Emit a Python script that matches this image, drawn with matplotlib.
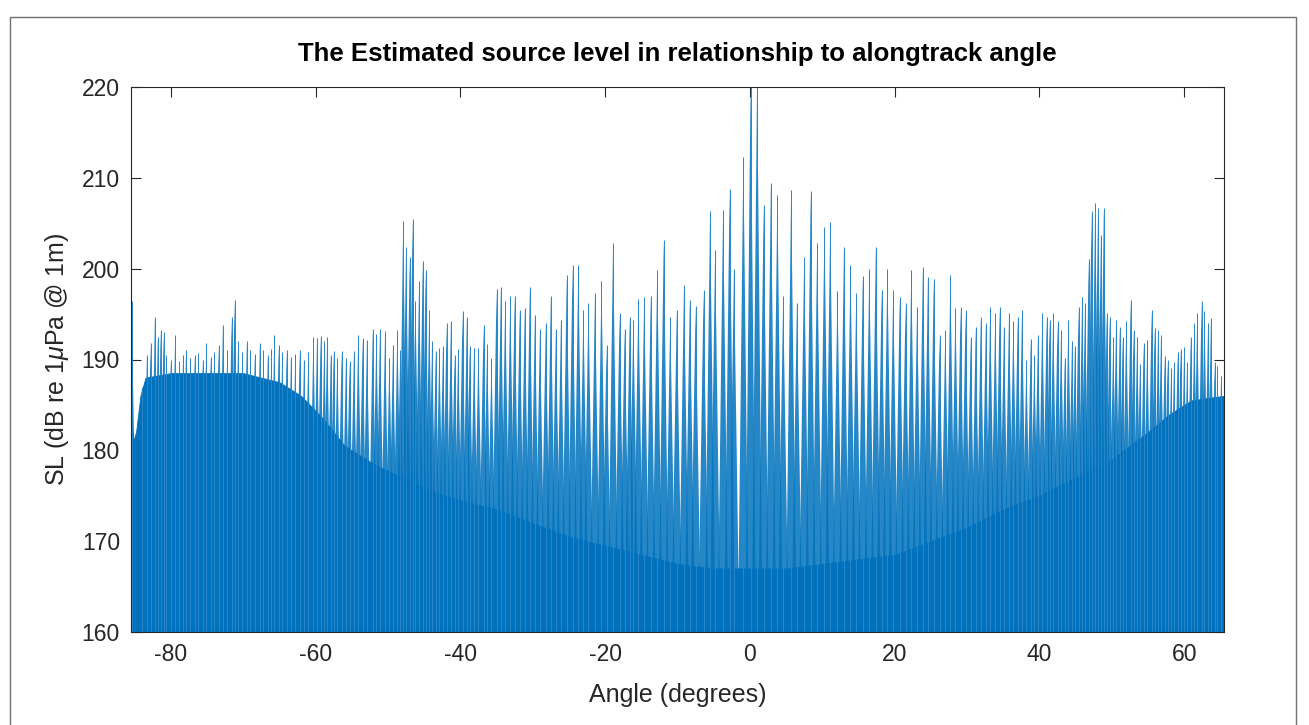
import numpy as np
import matplotlib
matplotlib.use("Agg")
import matplotlib.pyplot as plt
from matplotlib.collections import PolyCollection
from matplotlib.patches import Rectangle

# ---------------- data ----------------
# top of the solid (dense) part of the trace, angle in degrees -> SL in dB
ENV_ANGLE = [-85.5, -85.2, -84.8, -84.2, -83.5, -80, -75, -70, -65, -62, -59,
             -56, -52, -48, -44, -40, -35, -30, -25, -20, -15, -10, -5, 0,
             5, 10, 15, 20, 25, 30, 35, 40, 45, 50, 55, 58, 61, 65.5]
ENV_FLOOR = [184, 181, 182, 186, 188, 188.5, 188.5, 188.5, 187.5, 186, 183.5,
             180.5, 178.5, 177, 175.5, 174.5, 173.5, 172, 170.5, 169.5, 168.5,
             167.5, 167, 167, 167, 167.5, 168, 168.5, 170, 171.5, 173.5, 175,
             177, 179, 182, 184, 185.5, 186]

# individual spikes (ping peaks): angle in degrees and peak SL in dB
SPIKE_ANGLE = [
    -85.4, -84.0, -83.3, -82.8, -82.2, -81.8, -81.4, -81.0, -80.6, -80.0,
    -79.4, -78.8, -78.3, -77.9, -77.3, -76.7, -76.2, -75.6, -75.1, -74.5,
    -74.0, -73.4, -72.8, -72.2, -71.6, -71.2, -70.7, -70.1, -69.5, -69.0,
    -68.4, -67.7, -67.2, -66.6, -66.1, -65.7, -65.1, -64.6, -64.0, -63.4,
    -62.8, -62.2, -61.6, -61.0, -60.3, -59.8, -59.3, -58.8, -58.4, -57.9,
    -57.5, -57.0, -56.4, -55.8, -55.3, -54.7, -54.1, -53.5, -52.9, -52.1,
    -51.6, -51.1, -50.4, -49.8, -49.3, -48.7, -48.3, -47.9, -47.5, -47.0,
    -46.6, -46.2, -45.7, -45.2, -44.8, -44.3, -43.9, -43.4, -42.9, -42.4,
    -41.9, -41.3, -40.8, -40.3, -39.7, -39.1, -38.7, -38.1, -37.5, -36.8,
    -36.3, -35.7, -35.0, -34.4, -33.8, -33.1, -32.5, -31.8, -31.1, -30.4,
    -29.7, -29.0, -28.2, -27.5, -26.8, -26.1, -25.3, -24.5, -23.7, -23.0,
    -22.3, -21.4, -20.5, -19.8, -18.9, -18.0, -17.3, -16.6, -16.1, -15.4,
    -14.6, -13.7, -12.8, -11.9, -11.0, -10.1, -9.1, -8.3, -7.5, -6.4,
    -5.5, -4.8, -3.7, -2.8, -2.2, -0.9, 0.1, 1.0, 1.9, 2.9,
    3.8, 4.6, 5.7, 6.5, 7.5, 8.4, 9.3, 10.3, 11.1, 12.1,
    13.0, 13.9, 14.7, 15.6, 16.5, 17.4, 18.2, 19.0, 19.8, 20.7,
    21.5, 22.3, 23.1, 23.9, 24.6, 25.4, 26.2, 27.0, 27.7, 28.4,
    29.1, 29.8, 30.5, 31.2, 31.9, 32.6, 33.2, 33.9, 34.5, 35.1,
    35.8, 36.4, 37.0, 37.6, 38.2, 38.8, 39.3, 39.8, 40.4, 41.0,
    41.4, 41.9, 42.5, 43.0, 43.5, 44.0, 44.5, 44.9, 45.4, 45.9,
    46.3, 46.8, 47.2, 47.7, 48.1, 48.5, 48.9, 49.3, 49.7, 50.2,
    50.6, 51.1, 51.5, 52.0, 52.6, 53.0, 53.5, 53.9, 54.4, 54.9,
    55.5, 55.9, 56.4, 56.8, 57.3, 57.7, 58.2, 58.6, 59.1, 59.5,
    60.0, 60.4, 60.9, 61.4, 61.8, 62.4, 62.8, 63.3, 63.7, 64.2,
    64.6, 65.1]
SPIKE_DB = [
    196.4, 187.0, 190.5, 191.8, 194.7, 192.5, 193.3, 193.0, 190.5, 190.0,
    192.7, 189.8, 190.5, 191.1, 190.2, 190.5, 190.7, 190.0, 191.8, 190.3,
    190.8, 191.6, 193.8, 191.0, 194.7, 196.6, 192.0, 190.8, 192.0, 191.0,
    190.6, 191.8, 191.0, 190.5, 191.2, 192.7, 191.6, 190.8, 191.1, 190.3,
    190.6, 191.0, 190.0, 190.8, 192.5, 192.4, 192.6, 192.0, 192.5, 190.5,
    190.9, 190.2, 190.9, 190.2, 189.8, 190.9, 192.7, 192.4, 192.2, 193.4,
    192.8, 193.4, 193.1, 190.2, 191.6, 193.3, 191.0, 205.2, 202.4, 201.3,
    205.5, 196.4, 198.6, 200.8, 199.9, 195.4, 192.0, 190.9, 191.3, 191.5,
    194.0, 194.2, 190.5, 191.2, 195.3, 194.7, 191.5, 191.3, 191.3, 193.8,
    191.7, 190.2, 197.8, 198.0, 196.4, 197.0, 197.0, 195.5, 195.7, 198.0,
    194.9, 193.4, 194.0, 197.0, 193.4, 194.3, 199.3, 200.4, 200.4, 195.4,
    196.2, 197.3, 198.6, 191.6, 202.8, 195.1, 193.4, 194.7, 194.3, 196.7,
    196.9, 197.0, 199.9, 203.2, 194.7, 195.4, 198.2, 196.6, 195.9, 197.6,
    206.3, 202.1, 206.5, 208.8, 200.0, 212.3, 221.0, 221.0, 207.0, 209.4,
    208.1, 197.0, 208.7, 196.2, 201.3, 208.5, 202.8, 204.6, 205.1, 197.5,
    202.4, 200.4, 197.3, 199.2, 200.0, 202.4, 197.7, 200.0, 197.7, 196.9,
    196.2, 199.9, 195.8, 200.2, 199.1, 198.9, 192.7, 193.3, 199.3, 195.7,
    195.8, 195.4, 192.5, 193.6, 194.7, 194.0, 195.8, 195.1, 195.8, 193.6,
    195.1, 194.2, 194.7, 195.5, 189.9, 192.3, 190.5, 192.7, 195.1, 194.7,
    194.4, 195.1, 194.2, 193.3, 190.2, 194.4, 192.0, 191.5, 195.8, 196.9,
    196.2, 201.1, 206.3, 207.2, 206.7, 203.7, 206.7, 195.1, 194.7, 192.5,
    194.4, 193.6, 192.5, 194.2, 196.6, 193.3, 192.5, 189.5, 191.8, 192.2,
    195.5, 193.5, 193.3, 192.7, 190.4, 189.9, 189.1, 189.7, 190.8, 191.2,
    191.4, 189.7, 192.5, 194.0, 195.1, 196.4, 195.3, 194.0, 194.6, 189.7,
    189.3, 188.2]

X_TICKS = [-80, -60, -40, -20, 0, 20, 40, 60]
Y_TICKS = [160, 170, 180, 190, 200, 210, 220]

TITLE = "The Estimated source level in relationship to alongtrack angle"
XLABEL = "Angle (degrees)"
YLABEL = r"SL (dB re 1$\mu$Pa @ 1m)"

# ---------------- style ----------------
LINE_COLOR = "#0072BD"
AX_COLOR = "#262626"
BASE = 160.0
HALF_WIDTH = 0.75

plt.rcParams["font.family"] = ["Liberation Sans", "DejaVu Sans"]
plt.rcParams["mathtext.fontset"] = "custom"
plt.rcParams["mathtext.it"] = "Liberation Sans:italic"
plt.rcParams["mathtext.rm"] = "Liberation Sans"

fig = plt.figure(figsize=(13.09, 7.25), dpi=100)
fig.patch.set_facecolor("white")
ax = fig.add_axes([131 / 1309, 1 - 632 / 725, (1224 - 131) / 1309, (632 - 87) / 725])

# solid dense part
ax.fill_between(ENV_ANGLE, BASE, ENV_FLOOR, color=LINE_COLOR, lw=0.6,
                edgecolor=LINE_COLOR, zorder=2)

# spikes as thin triangles
verts = [[(a - HALF_WIDTH, BASE), (a, p), (a + HALF_WIDTH, BASE)]
         for a, p in zip(SPIKE_ANGLE, SPIKE_DB)]
pc = PolyCollection(verts, facecolors=LINE_COLOR, edgecolors="none",
                    alpha=0.85, zorder=3)
ax.add_collection(pc)
ax.vlines(SPIKE_ANGLE, BASE, SPIKE_DB, color="#2a86c8", lw=0.7, zorder=3)

ax.set_xlim(-85.5, 65.5)
ax.set_ylim(160, 220)
ax.set_xticks(X_TICKS)
ax.set_yticks(Y_TICKS)
ax.set_xticklabels([str(t) for t in X_TICKS])
ax.tick_params(direction="in", length=7.5, width=0.8, colors=AX_COLOR,
               labelsize=16.5, top=True, right=True, pad=8)
for sp in ax.spines.values():
    sp.set_color(AX_COLOR)
    sp.set_linewidth(0.8)
    sp.set_zorder(5)

ax.set_title(TITLE, fontsize=18.5, fontweight="bold", color="black", pad=19)
ax.set_xlabel(XLABEL, fontsize=18, color=AX_COLOR, labelpad=12)
ax.set_ylabel(YLABEL, fontsize=18, color=AX_COLOR, labelpad=8)

# outer frame of the figure panel
fig.patches.append(Rectangle((10 / 1309, -0.01), 1286 / 1309, 1 - 17 / 725 + 0.01,
                             transform=fig.transFigure, fill=False,
                             edgecolor="#707070", lw=1.0))

fig.savefig("out.png", dpi=100)
